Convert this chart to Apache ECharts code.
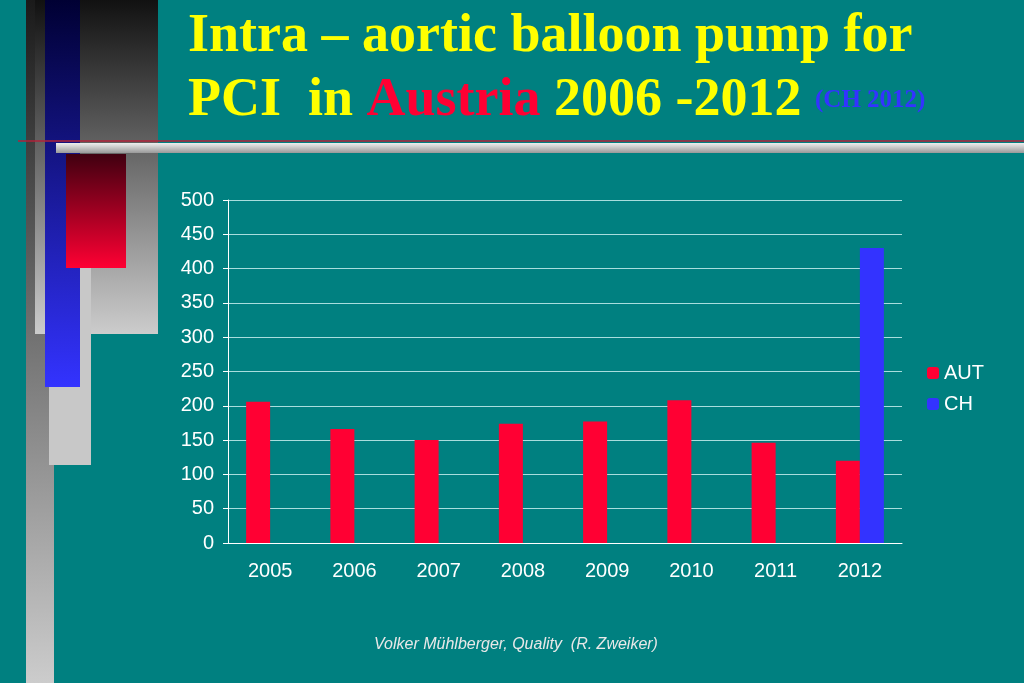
<!DOCTYPE html>
<html>
<head>
<meta charset="utf-8">
<script src="https://cdn.jsdelivr.net/npm/echarts@6/dist/echarts.min.js"></script>
<style>
  html, body { margin: 0; padding: 0; background: #008080; }
  #main { width: 1024px; height: 683px; }
</style>
</head>
<body>
<div id="main"></div>
<script>
const years = ["2005", "2006", "2007", "2008", "2009", "2010", "2011", "2012"];
const autValues = [206, 166, 150, 174, 177, 208, 146, 120];
const chValues = [null, null, null, null, null, null, null, 430];
const yTicks = { min: 0, max: 500, interval: 50 };

const chart = echarts.init(document.getElementById("main"));

const grey = (c1, c2) => new echarts.graphic.LinearGradient(0, 0, 0, 1, [
  { offset: 0, color: c1 }, { offset: 1, color: c2 }
]);

const option = {
  backgroundColor: "#008080",
  animation: false,
  graphic: [
    // left decoration
    { type: "rect", shape: { x: 26, y: 0, width: 28, height: 683 }, style: { fill: grey("#1a1a1a", "#cccccc") } },
    { type: "rect", shape: { x: 35, y: 0, width: 123, height: 334 }, style: { fill: grey("#111111", "#cccccc") } },
    { type: "rect", shape: { x: 49, y: 255, width: 42, height: 210 }, style: { fill: "#c8c8c8" } },
    { type: "rect", shape: { x: 45, y: 0, width: 35, height: 387 }, style: { fill: grey("#000033", "#3333ff") } },
    { type: "rect", shape: { x: 56, y: 143, width: 968, height: 10 }, style: { fill: grey("#eeeeee", "#999999") } },
    { type: "rect", shape: { x: 66, y: 154, width: 60, height: 114 }, style: { fill: grey("#400010", "#ff0033") } },
    { type: "line", shape: { x1: 18, y1: 141, x2: 1024, y2: 141 }, style: { stroke: "#b0223a", lineWidth: 1.5 } },
    // title
    {
      type: "text", left: 188, top: 10,
      style: {
        text: "Intra – aortic balloon pump for",
        font: "bold 54px 'Liberation Serif', serif", fill: "#ffff00",
        shadowColor: "rgba(0,0,0,0.7)", shadowOffsetX: 2, shadowOffsetY: 2, shadowBlur: 2
      }
    },
    {
      type: "text", left: 188, top: 74,
      style: {
        rich: {
          y: { font: "bold 54px 'Liberation Serif', serif", fill: "#ffff00" },
          r: { font: "bold 54px 'Liberation Serif', serif", fill: "#ff0033" },
          b: { font: "bold 25px 'Liberation Serif', serif", fill: "#3333ff" }
        },
        text: "{y|PCI  in }{r|Austria}{y| 2006 -2012 }{b|(CH 2012)}",
        shadowColor: "rgba(0,0,0,0.7)", shadowOffsetX: 2, shadowOffsetY: 2, shadowBlur: 2
      }
    },
    {
      type: "text", left: 374, top: 637,
      style: { text: "Volker Mühlberger, Quality  (R. Zweiker)", font: "italic 16px 'Liberation Sans', sans-serif", fill: "#e8e8e8" }
    }
  ],
  legend: {
    orient: "vertical", left: 922, top: 358, itemWidth: 12, itemHeight: 12, itemGap: 11,
    textStyle: { color: "#ffffff", fontSize: 20, fontFamily: "Liberation Sans" },
    data: ["AUT", "CH"]
  },
  grid: { left: 228, right: 122, top: 200, bottom: 140 },
  xAxis: {
    type: "category", data: years,
    axisLine: { lineStyle: { color: "#ffffff" } },
    axisTick: { lineStyle: { color: "#ffffff" } },
    axisLabel: { color: "#ffffff", fontSize: 20, fontFamily: "Liberation Sans", margin: 18 }
  },
  yAxis: {
    type: "value", min: yTicks.min, max: yTicks.max, interval: yTicks.interval,
    axisLine: { show: true, lineStyle: { color: "#ffffff" } },
    axisTick: { show: true, lineStyle: { color: "#ffffff" } },
    axisLabel: { color: "#ffffff", fontSize: 20, fontFamily: "Liberation Sans", margin: 14 },
    splitLine: { lineStyle: { color: "#a8dede" } }
  },
  series: [
    { name: "AUT", type: "bar", data: autValues, barWidth: 24, barGap: "0%", itemStyle: { color: "#ff0033" } },
    { name: "CH", type: "bar", data: chValues, barWidth: 24, itemStyle: { color: "#3333ff" } }
  ]
};

chart.setOption(option);
</script>
</body>
</html>
